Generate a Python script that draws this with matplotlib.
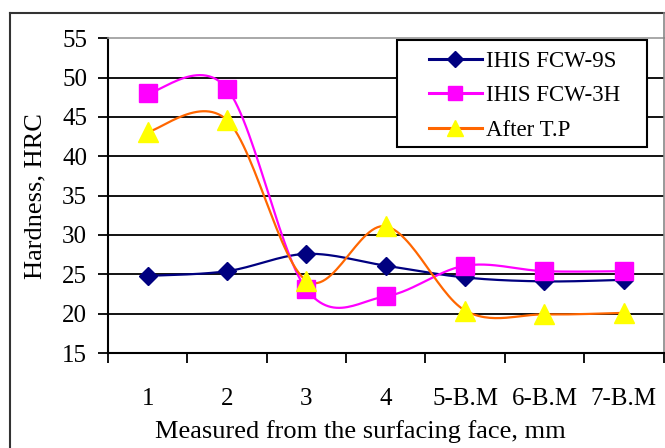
import matplotlib.pyplot as plt
import numpy as np
from matplotlib.lines import Line2D
from matplotlib.patches import Rectangle

categories = ["1", "2", "3", "4", "5-B.M", "6-B.M", "7-B.M"]
fcw_9s = [24.8, 25.4, 27.6, 26.1, 24.6, 24.1, 24.3]
fcw_3h = [48.0, 48.6, 23.1, 22.2, 26.1, 25.4, 25.4]
after_tp = [43.1, 44.6, 24.2, 31.1, 20.4, 19.9, 20.1]

W, H = 665, 448


def smooth(x, y, n=30):
    # excel-like smoothed line (catmull-rom through the points)
    x = np.asarray(x, float)
    y = np.asarray(y, float)
    px = np.concatenate([[x[0]], x, [x[-1]]])
    py = np.concatenate([[y[0]], y, [y[-1]]])
    xs, ys = [], []
    for i in range(1, len(px) - 2):
        t = np.linspace(0, 1, n)
        p0, p1, p2, p3 = px[i - 1], px[i], px[i + 1], px[i + 2]
        q0, q1, q2, q3 = py[i - 1], py[i], py[i + 1], py[i + 2]
        b1x, b1y = p1 + (p2 - p0) / 6, q1 + (q2 - q0) / 6
        b2x, b2y = p2 - (p3 - p1) / 6, q2 - (q3 - q1) / 6
        xs.append((1 - t) ** 3 * p1 + 3 * (1 - t) ** 2 * t * b1x + 3 * (1 - t) * t ** 2 * b2x + t ** 3 * p2)
        ys.append((1 - t) ** 3 * q1 + 3 * (1 - t) ** 2 * t * b1y + 3 * (1 - t) * t ** 2 * b2y + t ** 3 * q2)
    return np.concatenate(xs), np.concatenate(ys)


def fx(px):
    return px / W


def fy(py):
    return (H - py) / H


plt.rcParams['font.family'] = ['Liberation Serif', 'DejaVu Serif']

fig = plt.figure(figsize=(W / 100, H / 100), dpi=100)

# outer chart border
fig.add_artist(Line2D([fx(10), fx(10)], [fy(13), -0.1], color='#333333', lw=1.5))
fig.add_artist(Line2D([fx(10), fx(663.5)], [fy(13), fy(13)], color='#333333', lw=1.5))
fig.add_artist(Line2D([fx(663.5), fx(663.5)], [fy(13), fy(38)], color='#888888', lw=1.2))

ax = fig.add_axes([fx(108), fy(353), fx(663.5) - fx(108), fy(38.3) - fy(353)])
x = np.arange(len(categories))

series = [
    (fcw_9s, '#000080', 'D', 9, '#000080', 'IHIS FCW-9S', 8),
    (fcw_3h, '#FF00FF', 's', 13, '#FF00FF', 'IHIS FCW-3H', 10),
    (after_tp, '#FF6600', '^', 15, '#FFFF00', 'After T.P', 12),
]
handles = []
for vals, lc, mk, ms, mc, lab, lms in series:
    sx, sy = smooth(x, vals)
    ax.plot(sx, sy, color=lc, lw=1.6, zorder=3)
    ax.plot(x, vals, linestyle='none', marker=mk, markersize=ms,
            markerfacecolor=mc, markeredgecolor=mc, zorder=4)
    handles.append(Line2D([], [], color=lc, lw=2.2, marker=mk, markersize=lms,
                          markerfacecolor=mc, markeredgecolor=mc, label=lab))

ax.set_xlim(-0.5, 6.5)
ax.set_ylim(15, 55)
ax.set_yticks(np.arange(15, 56, 5))
for v in np.arange(20, 55, 5):
    ax.axhline(v, color='black', lw=1.3, zorder=1)

ax.set_xticks(np.arange(-0.5, 7, 1))
ax.set_xticklabels([])
ax.set_xticks(x, minor=True)
ax.set_xticklabels(categories, minor=True, fontsize=18)
ax.tick_params(axis='x', which='minor', length=0, pad=25)
ax.tick_params(axis='x', which='major', length=7, width=1.3, direction='out')
ax.tick_params(axis='y', length=7, width=1.3, labelsize=18, pad=8)

ax.spines['top'].set_color('#999999')
ax.spines['right'].set_color('#888888')
ax.spines['top'].set_linewidth(1.2)
ax.spines['right'].set_linewidth(1.2)
for s in ['left', 'bottom']:
    ax.spines[s].set_linewidth(1.5)

ax.set_xlabel('Measured from the surfacing face, mm', fontsize=19)
ax.xaxis.set_label_coords((360 - 108) / 555.5, -0.248)
ax.xaxis.label.set_va('center')
ax.set_ylabel('Hardness, HRC', fontsize=19, labelpad=11)

# legend box
fig.patches.append(Rectangle((fx(397), fy(147)), fx(647) - fx(397), fy(40) - fy(147),
                             transform=fig.transFigure, facecolor='white',
                             edgecolor='black', lw=1.5, zorder=5))
leg = fig.legend(handles=handles, loc='upper left',
                 bbox_to_anchor=(fx(429), fy(51)), fontsize=16.5, frameon=False,
                 handlelength=2.3, handletextpad=0.2, borderpad=0,
                 labelspacing=0.58, borderaxespad=0)
leg.set_zorder(6)

fig.savefig('out.png', dpi=100)
